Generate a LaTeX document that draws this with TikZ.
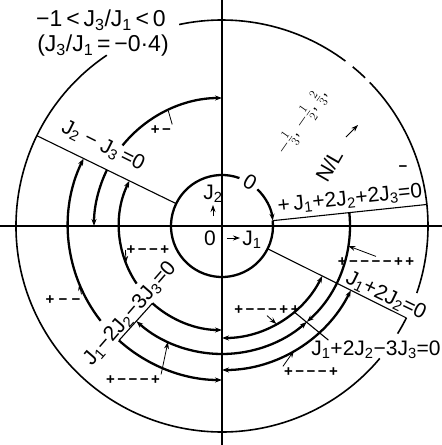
\documentclass[tikz,border=0pt]{standalone}
\usepackage{fontspec}
\setmainfont{Liberation Sans}
\usetikzlibrary{arrows.meta, calc, positioning}
\newcommand{\Jn}[1]{J\textsubscript{#1}}

\begin{document}
\begin{tikzpicture}[x=1pt,y=1pt,
  axis/.style={line width=1.1pt},
  bound/.style={line width=1.6pt},
  traj/.style={line width=2.3pt},
  lead/.style={line width=0.8pt},
  eqn/.style={font=\fontsize{21}{23}\selectfont, inner sep=0pt},
  sgn/.style={font=\fontsize{15}{17}\bfseries, inner sep=1pt},
  >={Stealth[length=7pt,width=5pt]}]
  \useasboundingbox (-222,-219) rectangle (220,226);
  % Radii of the circles and trajectories
  \def\rin{51}
  \def\rout{206}
  \coordinate (O) at (0,0);

  % Axes
  \draw[axis] (-222,0) -- (220,0);
  \draw[axis] (0,226) -- (0,-219);

  % Inner circle, broken for the 0 label
  \draw[traj] (70:\rin) arc[start angle=70,end angle=366,radius=\rin];
  \draw[traj,->] (46:\rin) arc[start angle=46,end angle=6,radius=\rin];

  % Outer circle in pieces
  \draw[bound] (124:\rout) arc[start angle=124,end angle=320,radius=\rout];
  \draw[bound] (-31.5:\rout) arc[start angle=-31.5,end angle=-26.5,radius=\rout];
  \draw[bound] (-19:\rout) arc[start angle=-19,end angle=44.2,radius=\rout];
  \draw[bound] (46:\rout) arc[start angle=46,end angle=50.6,radius=\rout];
  \draw[bound] (53.2:\rout) arc[start angle=53.2,end angle=102,radius=\rout];

  % Boundary lines
  \draw[axis] (154:\rin) -- (154:\rout);
  \draw[axis] (-26.5:\rin) -- (-26.5:\rout);
  \draw[axis] (6:\rin) -- (6:\rout);
  \draw[axis] (228:104) -- (228:154);
  \draw[axis] (-50:112) -- (-47:156);

  % Trajectories, left half
  \draw[traj,<-] (154:154) arc[start angle=154,end angle=218,radius=154];
  \draw[traj,->] (154:128) arc[start angle=154,end angle=180,radius=128];
  \draw[traj,<-] (154:103) arc[start angle=154,end angle=214,radius=103];
  \draw[traj,->] (141:128) arc[start angle=141,end angle=90,radius=128];
  \draw[traj,->] (228:154) arc[start angle=228,end angle=270,radius=154];
  \draw[traj,<-] (228:128) arc[start angle=228,end angle=270,radius=128];
  \draw[traj,->] (228:104) arc[start angle=228,end angle=270,radius=104];

  % Trajectories, right half
  \draw[traj,<->] (-26.5:112) arc[start angle=-26.5,end angle=-90,radius=112];
  \draw[traj,->] (6:128) arc[start angle=6,end angle=-48.5,radius=128];
  \draw[traj,->] (-90:128) arc[start angle=-90,end angle=-48.5,radius=128];
  \draw[traj,<->] (-26.5:144) arc[start angle=-26.5,end angle=-90,radius=144];

  % Title
  \node[eqn,font=\fontsize{23}{25}\selectfont] (range) at (-121,206) {−1\,<\,\Jn{3}/\Jn{1}\,<\,0};
  \node[eqn,font=\fontsize{23}{25}\selectfont] (ratio) at (-119,180) {(\Jn{3}/\Jn{1}\,=\,−0·4)};

  % Boundary labels
  \node[eqn,rotate=-26.6] (lJ23) at (-119,80) {\Jn{2} − \Jn{3}\,=0};
  \node[eqn,rotate=49] (lJ123m) at (-92,-88) {\Jn{1}−2\Jn{2}−3\Jn{3}=0};
  \node[eqn,rotate=6] (lJ122) at (128,27) {+\,\Jn{1}+2\Jn{2}+2\Jn{3}=0};
  \node[eqn,rotate=-26] (lJ12) at (164,-70) {\Jn{1}+2\Jn{2}=0};
  \node[eqn] (lJ123p) at (154,-124) {\Jn{1}+2\Jn{2}−3\Jn{3}=0};

  % Inside the inner circle
  \node[eqn,rotate=-30] (zero) at (28,44) {0};
  \node[eqn] (origin) at (-12,-12) {0};
  \node[eqn] (J2ax) at (-9,32) {\Jn{2}};
  \node[eqn] (J1ax) at (30,-14) {\Jn{1}};
  \draw[lead,->] (-9,10) -- (-9,21);
  \draw[lead,->] (5,-12) -- (18,-12);

  % N/L scale
  \node[eqn,rotate=60] (NL) at (107,60) {N/L};
  \draw[lead,->] (124,89) -- (136,101);
  \node[rotate=55,font=\fontsize{17}{19}\selectfont] (fracs) at (80,104) {$-\frac13$, $-\frac12$, $\frac23$,};
  \node[sgn] (minus) at (181,57) {−};

  % Sign labels with leaders
  \node[sgn] (s1) at (-61,96) {+\,−};
  \node[sgn] (s2) at (-159,-74) {+\;−\;−};
  \node[sgn] (s3) at (-74,-24) {+\,−\,−\,+};
  \node[sgn] (s4) at (-89,-154) {+\,−\,−\,−\,+};
  \node[sgn] (s5) at (45,-84) {+\,−\,−\,−\,+\,+};
  \node[sgn] (s6) at (154,-36) {+\,−\,−\,−\,−\,+\,+};
  \node[sgn] (s7) at (89,-146) {+\,−\,−\,−\,+};
  \coordinate (c1) at (115:127);
  \coordinate (c2) at (202:154);
  \coordinate (c3) at (201:103);
  \coordinate (c4) at (245:128);
  \coordinate (c5) at (299:112);
  \coordinate (c6) at (-9:128);
  \coordinate (c7) at (300:144);
  \draw[lead] (s1.north east) -- (c1);
  \draw[lead,->] (s2.north east) -- (c2);
  \draw[lead,->] (s3.west) -- (c3);
  \draw[lead,->] (s4.north east) -- (c4);
  \draw[lead,->] (s5.south) -- (c5);
  \draw[lead,->] (s6.north) -- (c6);
  \draw[lead,->] (s7.north west) -- (c7);
\end{tikzpicture}
\end{document}
